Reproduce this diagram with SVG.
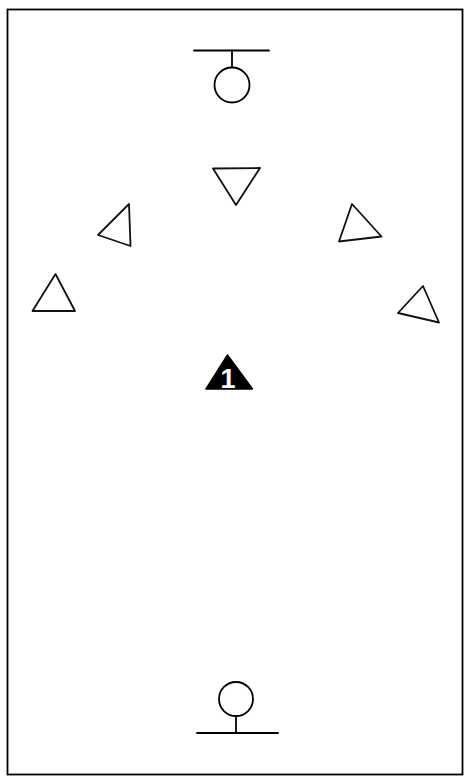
<svg xmlns="http://www.w3.org/2000/svg" width="464" height="776" viewBox="0 0 464 776">
<style>
.s{fill:none;stroke:#000;stroke-width:1.8;stroke-linejoin:round;stroke-linecap:round}
.t{fill:#fff;stroke:#111;stroke-width:1.8;stroke-linejoin:round}
</style>
<rect width="464" height="776" fill="#fff"/>
<rect x="7.5" y="9.5" width="455" height="765" fill="none" stroke="#000" stroke-width="1.8"/>
<g id="goal-top">
<line class="s" x1="194" y1="50.5" x2="269" y2="50.5"/>
<line class="s" x1="232" y1="50.5" x2="232" y2="67"/>
<circle class="s" cx="232" cy="85" r="17.5"/>
</g>
<g id="tri-center"><polygon class="t" points="213,168.5 260,168 236,205"/></g>
<g id="tri-left"><polygon class="t" points="129,204 98,235 130.5,246"/></g>
<g id="tri-right"><polygon class="t" points="352,204 339,241.5 381.5,236.5"/></g>
<g id="tri-far-left"><polygon class="t" points="55.5,274 32.5,311 75,311"/></g>
<g id="tri-far-right"><polygon class="t" points="423,286 398,313 439,322.5"/></g>
<g id="player-1">
<polygon points="227.5,355 206,389 252.5,389" fill="#000" stroke="#000" stroke-width="1.5" stroke-linejoin="round"/>
<text x="228" y="388" font-family="Liberation Sans, Arial, sans-serif" font-weight="bold" font-size="27" fill="#fff" text-anchor="middle">1</text>
</g>
<g id="goal-bottom">
<circle class="s" cx="236" cy="699" r="17"/>
<line class="s" x1="236" y1="716" x2="236" y2="733"/>
<line class="s" x1="197" y1="733" x2="278" y2="733"/>
</g>
<g id="connectors"></g>
</svg>
